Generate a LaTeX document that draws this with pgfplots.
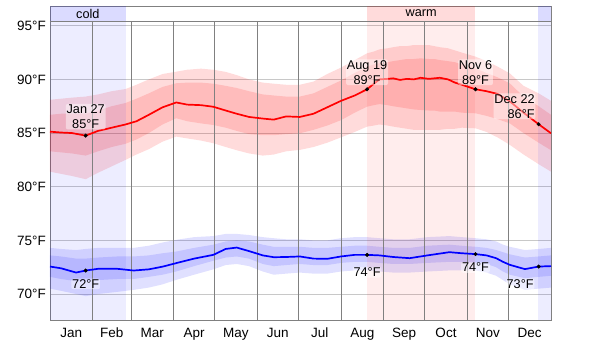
\documentclass[border=0pt]{standalone}
\usepackage{pgfplots}
\pgfplotsset{compat=1.18}
\usepackage{pgfplotstable}
\usepgfplotslibrary{fillbetween}
\usepackage{fontspec}
\setmainfont{Liberation Sans}

\definecolor{gridc}{RGB}{200,200,200}
\definecolor{framec}{RGB}{128,128,128}

\pgfplotstableread{
d olo ilo med ihi ohi
0 81.4 83.3 85.13 86.7 88.1
8 81.2 83.2 85.05 86.8 88.2
16 81.0 83.1 85.0 86.8 88.3
26 80.7 82.9 84.76 86.8 88.4
35 81.3 83.3 85.2 87.1 88.6
45 81.9 83.7 85.5 87.5 88.9
55 82.5 84.0 85.8 87.8 89.1
63 83.0 84.4 86.1 88.2 89.5
72 83.5 85.0 86.7 88.7 90.0
82 84.2 85.8 87.4 89.3 90.5
92 84.67 86.38 87.85 89.64 90.72
100 84.5 86.1 87.65 89.7 90.9
110 84.3 85.9 87.6 89.7 91.0
119 84.05 85.75 87.45 89.6 90.9
128 83.7 85.5 87.1 89.4 90.7
136 83.4 85.2 86.8 89.2 90.4
145 83.1 84.9 86.5 88.9 90.0
155 82.9 84.8 86.35 88.6 89.7
163 83.0 84.8 86.25 88.5 89.6
172 83.3 84.9 86.55 88.4 89.5
182 83.43 84.98 86.5 88.4 89.5
192 83.7 85.3 86.8 88.7 89.8
202 84.1 85.7 87.4 89.3 90.5
212 84.6 86.2 88.0 89.9 91.1
222 85.1 86.9 88.5 90.6 91.8
231 85.6 87.46 89.08 91.18 92.43
236 85.7 87.6 89.6 91.4 92.6
240 85.8 87.7 90.0 91.5 92.8
246 85.7 87.6 90.05 91.6 92.9
250 85.6 87.5 90.1 91.7 93.0
255 85.5 87.4 89.95 91.8 93.1
260 85.4 87.3 90.05 91.9 93.1
265 85.3 87.2 90.0 91.9 93.2
270 85.3 87.15 90.15 91.96 93.2
276 85.3 87.1 90.05 91.9 93.2
280 85.3 87.1 90.1 91.9 93.1
284 85.3 87.0 90.15 91.8 93.0
290 85.4 87.0 90.0 91.7 92.9
295 85.4 87.0 89.7 91.6 92.7
300 85.5 86.9 89.5 91.4 92.5
310 85.44 86.84 89.08 91.03 92.12
318 85.1 86.6 88.9 90.6 91.7
326 84.6 86.3 88.65 90.2 91.2
335 83.9 85.9 87.95 89.63 90.56
345 83.0 85.0 86.9 88.4 89.4
356 82.1 84.1 85.82 87.5 88.7
365 81.4 83.4 84.98 86.7 88.0
}\high

\pgfplotstableread{
d olo ilo med ihi ohi
0 70.5 71.6 72.56 73.6 74.3
8 70.3 71.4 72.4 73.5 74.2
19 70.0 71.2 72.0 73.3 74.1
26 69.8 71.2 72.19 73.3 74.2
35 70.0 71.3 72.35 73.4 74.3
49 70.2 71.4 72.35 73.5 74.3
61 70.39 71.4 72.19 73.5 74.3
72 70.6 71.6 72.3 73.6 74.5
82 70.9 71.8 72.55 73.8 74.8
92 71.32 72.1 72.88 73.96 75.05
105 71.8 72.6 73.3 74.3 75.3
119 72.3 73.1 73.65 74.6 75.4
128 72.7 73.4 74.2 74.9 75.6
136 72.8 73.5 74.33 75.0 75.6
145 72.6 73.3 74.0 74.9 75.5
155 72.1 72.8 73.6 74.6 75.3
163 71.8 72.6 73.43 74.4 75.2
172 71.9 72.7 73.45 74.4 75.1
182 72.0 72.8 73.5 74.4 75.1
192 71.9 72.7 73.3 74.3 75.0
202 71.9 72.7 73.28 74.3 75.0
212 72.1 72.9 73.5 74.4 75.2
222 72.2 73.0 73.65 74.5 75.3
231 72.2 73.0 73.65 74.5 75.3
240 72.1 72.9 73.6 74.4 75.2
250 72.0 72.8 73.45 74.3 75.1
262 72.0 72.8 73.34 74.3 75.1
275 72.1 72.9 73.6 74.5 75.3
291 72.2 73.0 73.9 74.6 75.4
300 72.2 73.0 73.8 74.5 75.3
310 72.2 72.9 73.72 74.4 75.2
318 72.0 72.8 73.6 74.3 75.1
325 71.7 72.5 73.34 74.1 74.9
330 71.3 72.1 73.0 73.9 74.6
335 70.9 71.8 72.72 73.7 74.4
346 70.4 71.48 72.32 73.4 74.1
356 70.5 71.6 72.56 73.5 74.2
365 70.6 71.7 72.6 73.6 74.3
}\low

\begin{document}
\begin{tikzpicture}
\begin{axis}[
  at={(0,0)}, anchor=south west,
  scale only axis, width=501pt, height=314pt,
  xmin=0, xmax=365, ymin=67.58, ymax=96.84,
  axis line style={draw=framec},
  ytick={70,75,80,85,90,95},
  yticklabels={70°F,75°F,80°F,85°F,90°F,95°F},
  xtick={15.5,45,74.5,105,135.5,166,196.5,227.5,258,288.5,319,349.5},
  xticklabels={Jan,Feb,Mar,Apr,May,Jun,Jul,Aug,Sep,Oct,Nov,Dec},
  major tick length=0pt,
  ymajorgrids, grid style={draw=gridc, line width=0.8pt},
  yticklabel style={font=\fontsize{13.5}{16}\selectfont, anchor=east, inner sep=0pt, xshift=-4pt},
  xticklabel style={font=\fontsize{13.5}{16}\selectfont, anchor=north, inner sep=0pt, yshift=-8pt},
  clip=true,
]
% seasonal backgrounds
\addplot[draw=none, fill=blue, fill opacity=0.07] coordinates {(0,67.58) (55.2,67.58) (55.2,95.44) (0,95.44)} -- cycle;
\addplot[draw=none, fill=blue, fill opacity=0.07] coordinates {(355.8,67.58) (365,67.58) (365,95.44) (355.8,95.44)} -- cycle;
\addplot[draw=none, fill=red, fill opacity=0.07] coordinates {(231.2,67.58) (309.6,67.58) (309.6,95.44) (231.2,95.44)} -- cycle;
% label band
\addplot[draw=none, fill=blue, fill opacity=0.14] coordinates {(0,95.44) (55.2,95.44) (55.2,96.84) (0,96.84)} -- cycle;
\addplot[draw=none, fill=blue, fill opacity=0.14] coordinates {(355.8,95.44) (365,95.44) (365,96.84) (355.8,96.84)} -- cycle;
\addplot[draw=none, fill=red, fill opacity=0.14] coordinates {(231.2,95.44) (309.6,95.44) (309.6,96.84) (231.2,96.84)} -- cycle;
\addplot[framec, line width=0.8pt] coordinates {(0,95.44) (365,95.44)};
% month boundaries
\addplot[framec, line width=0.8pt] coordinates {(31,67.58) (31,95.44)};
\addplot[framec, line width=0.8pt] coordinates {(59,67.58) (59,95.44)};
\addplot[framec, line width=0.8pt] coordinates {(90,67.58) (90,95.44)};
\addplot[framec, line width=0.8pt] coordinates {(120,67.58) (120,95.44)};
\addplot[framec, line width=0.8pt] coordinates {(151,67.58) (151,95.44)};
\addplot[framec, line width=0.8pt] coordinates {(181,67.58) (181,95.44)};
\addplot[framec, line width=0.8pt] coordinates {(212,67.58) (212,95.44)};
\addplot[framec, line width=0.8pt] coordinates {(243,67.58) (243,95.44)};
\addplot[framec, line width=0.8pt] coordinates {(273,67.58) (273,95.44)};
\addplot[framec, line width=0.8pt] coordinates {(304,67.58) (304,95.44)};
\addplot[framec, line width=0.8pt] coordinates {(334,67.58) (334,95.44)};
% high bands
\addplot[draw=none, name path=hohi] table[x=d,y=ohi]{\high};
\addplot[draw=none, name path=holo] table[x=d,y=olo]{\high};
\addplot[draw=none, name path=hihi] table[x=d,y=ihi]{\high};
\addplot[draw=none, name path=hilo] table[x=d,y=ilo]{\high};
\addplot[draw=none, fill=red, fill opacity=0.14] fill between[of=hohi and holo];
\addplot[draw=none, fill=red, fill opacity=0.14] fill between[of=hihi and hilo];
% low bands
\addplot[draw=none, name path=lohi] table[x=d,y=ohi]{\low};
\addplot[draw=none, name path=lolo] table[x=d,y=olo]{\low};
\addplot[draw=none, name path=lihi] table[x=d,y=ihi]{\low};
\addplot[draw=none, name path=lilo] table[x=d,y=ilo]{\low};
\addplot[draw=none, fill=blue, fill opacity=0.12] fill between[of=lohi and lolo];
\addplot[draw=none, fill=blue, fill opacity=0.12] fill between[of=lihi and lilo];
% medians
\addplot[red, line width=1.7pt] table[x=d,y=med]{\high};
\addplot[blue, line width=1.7pt] table[x=d,y=med]{\low};
% marked points
\addplot[only marks, mark=*, mark size=1.8pt, black] coordinates {(26,84.76) (231,89.08) (310,89.08) (356,85.82) (26,72.19) (231,73.65) (310,73.72) (356,72.56)};
% annotations
\node[font=\fontsize{12.7}{15}\selectfont, fill=white, fill opacity=0.45, text opacity=1, inner sep=0.8pt, rounded corners=2pt, align=center, anchor=south, yshift=6pt] at (axis cs:26,84.76) {Jan 27\\85°F};
\node[font=\fontsize{12.7}{15}\selectfont, fill=white, fill opacity=0.45, text opacity=1, inner sep=0.8pt, rounded corners=2pt, align=center, anchor=south, yshift=4pt] at (axis cs:231,89.08) {Aug 19\\89°F};
\node[font=\fontsize{12.7}{15}\selectfont, fill=white, fill opacity=0.45, text opacity=1, inner sep=0.8pt, rounded corners=2pt, align=center, anchor=south, yshift=4pt] at (axis cs:310,89.08) {Nov 6\\89°F};
\node[font=\fontsize{12.7}{15}\selectfont, fill=white, fill opacity=0.45, text opacity=1, inner sep=0.8pt, rounded corners=2pt, align=right, anchor=south east, xshift=-3pt, yshift=5pt] at (axis cs:356,85.82) {Dec 22\\86°F};
\node[font=\fontsize{12.7}{15}\selectfont, fill=white, fill opacity=0.45, text opacity=1, inner sep=0.8pt, rounded corners=2pt, anchor=north, yshift=-8pt] at (axis cs:26,72.19) {72°F};
\node[font=\fontsize{12.7}{15}\selectfont, fill=white, fill opacity=0.45, text opacity=1, inner sep=0.8pt, rounded corners=2pt, anchor=north, yshift=-12pt] at (axis cs:231,73.65) {74°F};
\node[font=\fontsize{12.7}{15}\selectfont, fill=white, fill opacity=0.45, text opacity=1, inner sep=0.8pt, rounded corners=2pt, anchor=north, yshift=-8pt] at (axis cs:310,73.72) {74°F};
\node[font=\fontsize{12.7}{15}\selectfont, fill=white, fill opacity=0.45, text opacity=1, inner sep=0.8pt, rounded corners=2pt, anchor=north east, xshift=-4pt, yshift=-12pt] at (axis cs:356,72.56) {73°F};
% season labels
\node[font=\fontsize{12.7}{15}\selectfont] at (axis cs:27.6,96.14) {cold};
\node[font=\fontsize{12.7}{15}\selectfont] at (axis cs:270.4,96.14) {warm};
\end{axis}
\path (-50pt,-24pt) rectangle (550pt,320pt);
\end{tikzpicture}
\end{document}
